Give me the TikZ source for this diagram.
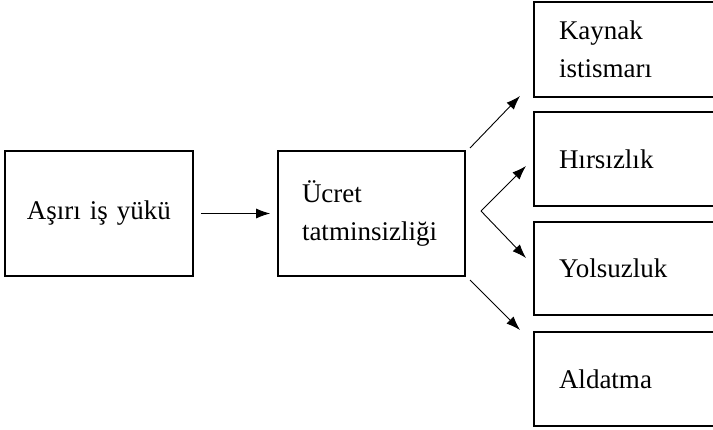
\documentclass[tikz,border=0pt]{standalone}
\usepackage{fontspec}
\setmainfont{Liberation Serif}
\usetikzlibrary{arrows.meta}
\begin{document}
\begin{tikzpicture}[x=1pt,y=-1pt,
  box/.style={draw,line width=1.7pt,rectangle,inner ysep=0pt,align=left,font=\fontsize{27}{38}\selectfont},
  conn/.style={line width=0.9pt,-{Latex[length=14pt,width=10pt]}}]
\clip (0,0) rectangle (713,430);
\fill[white] (0,0) rectangle (713,430);
\node[box,minimum height=125pt,text width=188pt,inner xsep=0pt,align=center] (A) at (99,213.5) {Aşırı iş yükü};
\node[box,minimum height=125pt,text width=139pt,inner xsep=24pt] (B) at (371.5,213.5) {Ücret\\tatminsizliği};
\node[box,minimum height=95pt,text width=150pt,inner xsep=25pt] (R1) at (634,49.5) {Kaynak\\istismarı};
\node[box,minimum height=94pt,text width=150pt,inner xsep=25pt] (R2) at (634,159) {Hırsızlık};
\node[box,minimum height=93pt,text width=150pt,inner xsep=25pt] (R3) at (634,268.5) {Yolsuzluk};
\node[box,minimum height=94pt,text width=150pt,inner xsep=25pt] (R4) at (634,379) {Aldatma};
\coordinate (s1) at (470,148);
\coordinate (t1) at (520,96);
\coordinate (f) at (481,211);
\coordinate (t2) at (526,166);
\coordinate (t3) at (526,258);
\coordinate (s4) at (470,280);
\coordinate (t4) at (520,330);
\draw[conn,shorten <=7pt,shorten >=7pt] (A.east) -- (B.west);
\draw[conn] (s1) -- (t1);
\draw[conn] (f) -- (t2);
\draw[conn] (f) -- (t3);
\draw[conn] (s4) -- (t4);
\end{tikzpicture}
\end{document}
